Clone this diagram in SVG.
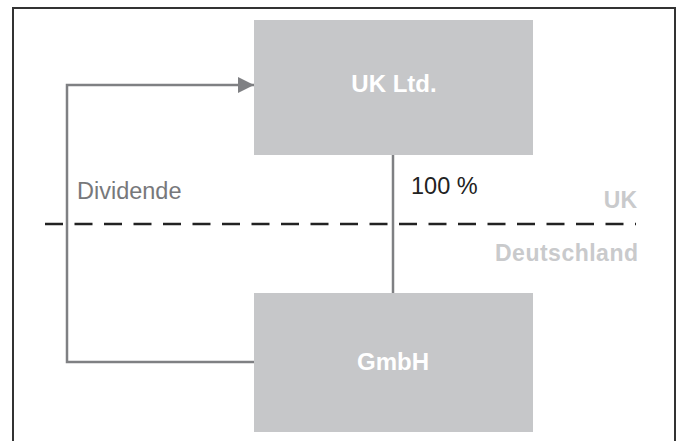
<svg xmlns="http://www.w3.org/2000/svg" width="677" height="441" viewBox="0 0 677 441">
  <style>
    .box { fill: #c6c7c9; }
    .boxlabel { font-family: "Liberation Sans", Arial, sans-serif; font-weight: bold; font-size: 24px; fill: #ffffff; text-anchor: middle; }
    .link { fill: none; stroke: #7f8083; stroke-width: 2.5; }
    .country { font-family: "Liberation Sans", Arial, sans-serif; font-weight: bold; font-size: 23px; fill: #c9cacc; text-anchor: end; }
    .note { font-family: "Liberation Sans", Arial, sans-serif; font-size: 23.5px; }
  </style>
  <defs>
    <marker id="arrow" viewBox="0 0 16 16" refX="16" refY="8" markerWidth="16" markerHeight="16" markerUnits="userSpaceOnUse" orient="auto">
      <path d="M0,0 L16,8 L0,16 Z" fill="#7f8083"/>
    </marker>
  </defs>

  <rect x="0" y="0" width="677" height="441" fill="#ffffff"/>
  <!-- outer frame -->
  <path d="M13,445 V8 H675 V445" fill="none" stroke="#333333" stroke-width="2"/>

  <!-- border between UK and Germany -->
  <line x1="45" y1="224" x2="636" y2="224" stroke="#222222" stroke-width="2.5" stroke-dasharray="18 11.5"/>
  <text class="country" x="637" y="208">UK</text>
  <text class="country" x="638" y="261" textLength="143" lengthAdjust="spacing">Deutschland</text>

  <g id="connectors">
    <line class="link" x1="393" y1="155" x2="393" y2="293"/>
    <path class="link" d="M254,362 H67 V85 H254" marker-end="url(#arrow)"/>
  </g>

  <text class="note" x="77" y="199" fill="#77787b">Dividende</text>
  <text class="note" x="411" y="194" fill="#222222" font-size="23">100 %</text>

  <g id="uk-ltd">
    <rect class="box" x="254" y="20" width="279" height="135"/>
    <text class="boxlabel" x="394" y="92">UK Ltd.</text>
  </g>

  <g id="gmbh">
    <rect class="box" x="254" y="293" width="279" height="139"/>
    <text class="boxlabel" x="393" y="370">GmbH</text>
  </g>
</svg>
